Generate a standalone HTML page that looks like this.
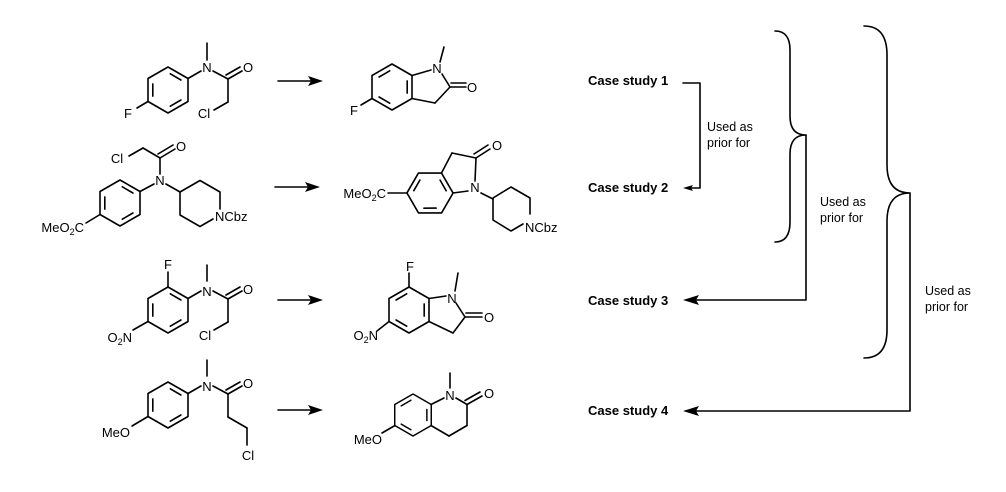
<!DOCTYPE html>
<html><head><meta charset="utf-8"><style>
html,body{margin:0;padding:0;background:#fff;}
svg{display:block;}
text{font-family:"Liberation Sans",Arial,sans-serif;fill:#000;}
.a{font-size:13px;}
.c{font-size:13px;font-weight:bold;}
.u{font-size:12.5px;}
</style></head><body>
<svg width="1006" height="492" viewBox="0 0 1006 492" xmlns="http://www.w3.org/2000/svg">
<defs>
<g id="hexA">
<polygon points="0,-23 20,-11.5 20,11.5 0,23 -20,11.5 -20,-11.5" fill="none"/>
<line x1="-15.2" y1="-6.1" x2="-15.2" y2="6.1"/>
<line x1="2.3" y1="-16.2" x2="12.9" y2="-10"/>
<line x1="12.9" y1="10" x2="2.3" y2="16.2"/>
</g>
<g id="hexB">
<polygon points="0,-23 20,-11.5 20,11.5 0,23 -20,11.5 -20,-11.5" fill="none"/>
<line x1="15.2" y1="-6.1" x2="15.2" y2="6.1"/>
<line x1="-12.9" y1="-10" x2="-2.3" y2="-16.2"/>
<line x1="-2.3" y1="16.2" x2="-12.9" y2="10"/>
</g>
</defs>
<g stroke="#000" stroke-width="1.6" fill="none" stroke-linecap="round" stroke-linejoin="round">
<!-- Row 1 reactant -->
<use href="#hexA" transform="translate(168,90)"/>
<line x1="148" y1="101.5" x2="137" y2="108"/>
<line x1="188" y1="78.5" x2="201" y2="71"/>
<line x1="207" y1="60" x2="207" y2="43"/>
<line x1="213" y1="71" x2="228" y2="79"/>
<line x1="228" y1="79" x2="242" y2="71"/>
<line x1="226" y1="75" x2="240" y2="67"/>
<line x1="228" y1="79" x2="228" y2="102"/>
<line x1="228" y1="102" x2="214" y2="110"/>
<!-- Row 1 product -->
<use href="#hexB" transform="translate(392,87)"/>
<line x1="412" y1="75.5" x2="431" y2="70"/>
<line x1="440" y1="62" x2="444" y2="47"/>
<line x1="442" y1="74" x2="450" y2="87"/>
<line x1="450" y1="87" x2="466" y2="87"/>
<line x1="451" y1="83" x2="466" y2="83"/>
<line x1="450" y1="87" x2="435" y2="103"/>
<line x1="435" y1="103" x2="412" y2="98.5"/>
<line x1="372" y1="98.5" x2="361" y2="105"/>
<!-- Row 2 reactant -->
<use href="#hexA" transform="translate(120,203)"/>
<line x1="100" y1="214.5" x2="86" y2="223"/>
<line x1="140" y1="191.5" x2="154" y2="184"/>
<line x1="160" y1="174" x2="160" y2="158"/>
<line x1="160" y1="158" x2="175" y2="149"/>
<line x1="158" y1="154" x2="173" y2="145"/>
<line x1="160" y1="158" x2="143" y2="148"/>
<line x1="143" y1="148" x2="129" y2="156"/>
<line x1="166" y1="184" x2="180" y2="192"/>
<polyline points="220,209 220,192 200,180.5 180,192 180,215 200,226.5 213,219"/>
<!-- Row 2 product -->
<use href="#hexA" transform="translate(430,193) rotate(30)"/>
<line x1="407" y1="193" x2="388" y2="193"/>
<line x1="441.5" y1="173" x2="452" y2="153"/>
<line x1="452" y1="153" x2="476" y2="158"/>
<line x1="476" y1="158" x2="490" y2="149"/>
<line x1="474" y1="154" x2="488" y2="145"/>
<line x1="476" y1="158" x2="475" y2="181"/>
<line x1="468" y1="191" x2="453" y2="193"/>
<line x1="481" y1="193" x2="493" y2="199"/>
<polyline points="530,214 530,198 511,187 493,198 493,220 511,231 523,224"/>
<!-- Row 3 reactant -->
<use href="#hexA" transform="translate(168,310)"/>
<line x1="168" y1="287" x2="168" y2="272"/>
<line x1="188" y1="298.5" x2="201" y2="291"/>
<line x1="207" y1="281" x2="207" y2="265"/>
<line x1="213" y1="291" x2="228" y2="299"/>
<line x1="228" y1="299" x2="242" y2="291"/>
<line x1="226" y1="295" x2="240" y2="287"/>
<line x1="228" y1="299" x2="228" y2="322"/>
<line x1="228" y1="322" x2="214" y2="330"/>
<line x1="148" y1="321.5" x2="133" y2="330"/>
<!-- Row 3 product -->
<use href="#hexB" transform="translate(409,310)"/>
<line x1="409" y1="287" x2="409" y2="273"/>
<line x1="429" y1="298.5" x2="446" y2="296"/>
<line x1="455" y1="291" x2="458" y2="273"/>
<line x1="456" y1="303" x2="465" y2="317"/>
<line x1="465" y1="317" x2="482" y2="317"/>
<line x1="466" y1="313" x2="482" y2="313"/>
<line x1="465" y1="317" x2="453" y2="333"/>
<line x1="453" y1="333" x2="429" y2="321.5"/>
<line x1="389" y1="321.5" x2="377" y2="331"/>
<!-- Row 4 reactant -->
<use href="#hexA" transform="translate(168,405)"/>
<line x1="148" y1="416.5" x2="132" y2="426"/>
<line x1="188" y1="393.5" x2="201" y2="386"/>
<line x1="207" y1="376" x2="207" y2="360"/>
<line x1="213" y1="386" x2="228" y2="394"/>
<line x1="228" y1="394" x2="242" y2="386"/>
<line x1="226" y1="390" x2="240" y2="382"/>
<line x1="228" y1="394" x2="228" y2="417"/>
<line x1="228" y1="417" x2="247" y2="428"/>
<line x1="247" y1="428" x2="247" y2="445"/>
<!-- Row 4 product -->
<use href="#hexB" transform="translate(413,415) scale(0.913)"/>
<line x1="431" y1="404.5" x2="444" y2="398"/>
<line x1="450" y1="388" x2="450" y2="373"/>
<line x1="456" y1="398" x2="467" y2="404.5"/>
<line x1="467" y1="404.5" x2="482" y2="396"/>
<line x1="465" y1="400.5" x2="480" y2="392"/>
<line x1="467" y1="404.5" x2="467" y2="425.5"/>
<line x1="467" y1="425.5" x2="449" y2="436"/>
<line x1="449" y1="436" x2="431" y2="425.5"/>
<line x1="395" y1="425.5" x2="382" y2="433"/>
<!-- reaction arrows -->
<line x1="278" y1="81" x2="312" y2="81"/>
<line x1="275" y1="187" x2="309" y2="187"/>
<line x1="278" y1="300" x2="312" y2="300"/>
<line x1="278" y1="410" x2="312" y2="410"/>
<!-- right side -->
<polyline points="683,83 700,83 700,188 690,188"/>
<path d="M775,31 Q790,31 790,50 L790,116 Q790,135 806,135 Q790,135 790,154 L790,222 Q790,242 775,242"/>
<polyline points="806,135 806,300 695,300"/>
<path d="M864,26 Q887,26 887,55 L887,165 Q887,193 910,193 Q887,193 887,221 L887,330 Q887,358 864,358"/>
<polyline points="910,193 910,411 695,411"/>
</g>
<g fill="#000" stroke="none">
<polygon points="323,81 308,76 311,81 308,86"/>
<polygon points="320,187 305,182 308,187 305,192"/>
<polygon points="323,300 308,295 311,300 308,305"/>
<polygon points="323,410 308,405 311,410 308,415"/>
<polygon points="683,188 693,185 691,188 693,191"/>
<polygon points="683,300 699,295 696,300 699,305"/>
<polygon points="683,411 699,406 696,411 699,416"/>
</g>
<!-- atom labels -->
<text class="a" x="128" y="118" text-anchor="middle">F</text>
<text class="a" x="207" y="72" text-anchor="middle">N</text>
<text class="a" x="248" y="72" text-anchor="middle">O</text>
<text class="a" x="204" y="118" text-anchor="middle">Cl</text>

<text class="a" x="437" y="73" text-anchor="middle">N</text>
<text class="a" x="472" y="92" text-anchor="middle">O</text>
<text class="a" x="354" y="115" text-anchor="middle">F</text>

<text class="a" x="84" y="232" text-anchor="end">MeO<tspan font-size="9" dy="3">2</tspan><tspan dy="-3">C</tspan></text>
<text class="a" x="160" y="185" text-anchor="middle">N</text>
<text class="a" x="181" y="151" text-anchor="middle">O</text>
<text class="a" x="117" y="163" text-anchor="middle">Cl</text>
<text class="a" x="215" y="221">NCbz</text>

<text class="a" x="386" y="198" text-anchor="end">MeO<tspan font-size="9" dy="3">2</tspan><tspan dy="-3">C</tspan></text>
<text class="a" x="497" y="150" text-anchor="middle">O</text>
<text class="a" x="475" y="192" text-anchor="middle">N</text>
<text class="a" x="525" y="232">NCbz</text>

<text class="a" x="168" y="269" text-anchor="middle">F</text>
<text class="a" x="207" y="296" text-anchor="middle">N</text>
<text class="a" x="248" y="294" text-anchor="middle">O</text>
<text class="a" x="205" y="340" text-anchor="middle">Cl</text>
<text class="a" x="132" y="342" text-anchor="end">O<tspan font-size="9" dy="3">2</tspan><tspan dy="-3">N</tspan></text>

<text class="a" x="410" y="271" text-anchor="middle">F</text>
<text class="a" x="452" y="303" text-anchor="middle">N</text>
<text class="a" x="489" y="322" text-anchor="middle">O</text>
<text class="a" x="378" y="340" text-anchor="end">O<tspan font-size="9" dy="3">2</tspan><tspan dy="-3">N</tspan></text>

<text class="a" x="130" y="437" text-anchor="end">MeO</text>
<text class="a" x="207" y="391" text-anchor="middle">N</text>
<text class="a" x="248" y="388" text-anchor="middle">O</text>
<text class="a" x="248" y="460" text-anchor="middle">Cl</text>

<text class="a" x="450" y="400" text-anchor="middle">N</text>
<text class="a" x="489" y="398" text-anchor="middle">O</text>
<text class="a" x="382" y="444" text-anchor="end">MeO</text>

<!-- right labels -->
<text class="c" x="588" y="85">Case study 1</text>
<text class="c" x="588" y="192">Case study 2</text>
<text class="c" x="588" y="305">Case study 3</text>
<text class="c" x="588" y="415">Case study 4</text>
<text class="u" x="707" y="131">Used as</text>
<text class="u" x="707" y="147">prior for</text>
<text class="u" x="820" y="206">Used as</text>
<text class="u" x="820" y="222">prior for</text>
<text class="u" x="925" y="295">Used as</text>
<text class="u" x="925" y="311">prior for</text>
</svg>
</body></html>
